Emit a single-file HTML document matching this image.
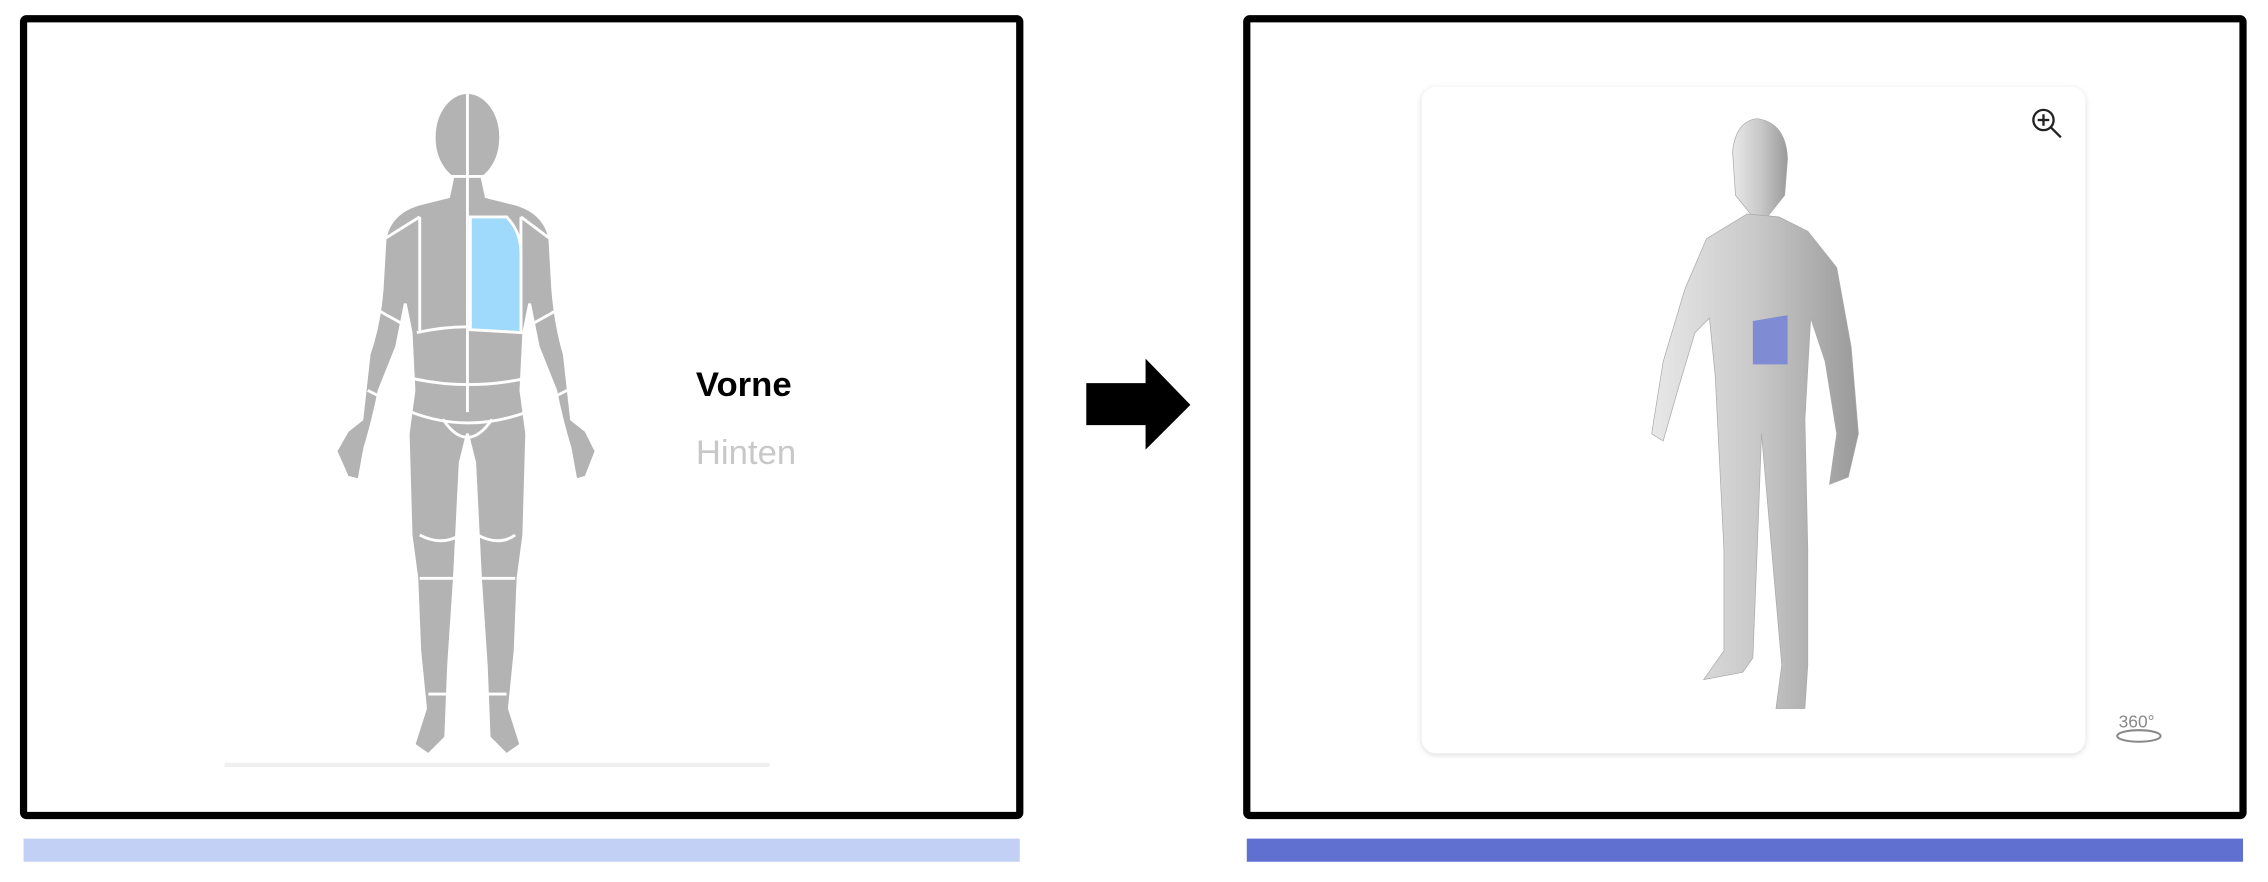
<!DOCTYPE html>
<html><head><meta charset="utf-8"><style>
html,body{margin:0;padding:0;background:#fff;width:2268px;height:882px;overflow:hidden}
svg{display:block}
text{font-family:"Liberation Sans",sans-serif}
</style></head><body>
<svg width="2268" height="882" viewBox="0 0 1568 610">
<defs>
<linearGradient id="g3" x1="0" x2="1"><stop offset="0" stop-color="#e8e8e8"/><stop offset="0.5" stop-color="#c9c9c9"/><stop offset="1" stop-color="#9a9a9a"/></linearGradient>
<filter id="sh" x="-5%" y="-5%" width="110%" height="110%"><feDropShadow dx="0" dy="1" stdDeviation="2" flood-color="#000" flood-opacity="0.15"/></filter>
</defs>
<!-- left panel -->
<rect x="16" y="13" width="689" height="551" fill="#fff" stroke="#000" stroke-width="5" rx="2"/>
<g fill="#b3b3b3" stroke="#fff" stroke-width="2">
 <ellipse cx="323" cy="95" rx="23" ry="31"/>
 <path d="M313,122 L333,122 L336,136 L352,140 Q376,145 380,165 L382,200 Q384,225 390,245 L395,290 L405,298 L412,312 L405,330 L398,332 L394,310 Q388,290 384,270 L372,240 L366,210 L362,230 L360,270 L364,300 L362,370 L358,400 L356,450 L352,490 L360,515 L350,522 L338,510 L336,460 L332,400 L328,320 L323,300 L318,320 L314,400 L310,460 L308,510 L296,522 L286,515 L294,490 L290,450 L288,400 L284,370 L282,300 L286,270 L284,230 L280,210 L274,240 L262,270 Q258,290 252,310 L248,332 L240,330 L232,312 L240,298 L250,290 L255,245 Q262,225 264,200 L266,165 Q270,145 294,140 L310,136 Z"/>
 <path d="M323,64 V285 M290,150 V230 M360,150 V230 M288,230 Q323,222 360,230 M286,262 Q323,270 362,262 M284,285 Q323,300 364,285 M306,290 Q323,315 340,290 M290,370 Q305,378 318,370 M330,370 Q345,378 356,370 M290,400 H316 M332,400 H356 M296,480 H312 M334,480 H350 M266,165 Q290,150 290,150 M380,165 Q360,150 360,150 M262,215 L280,225 M384,215 L366,225 M254,270 L270,278 M392,270 L376,278" fill="none"/>
 <path d="M325,150 L350,150 Q360,160 360,175 L360,230 L325,228 Z" fill="#9fd9fb" stroke="#fff"/>
</g>
<line x1="155" y1="529" x2="532" y2="529" stroke="#f0f0f0" stroke-width="3"/>
<text x="481" y="274" font-size="24" font-weight="bold" fill="#000">Vorne</text>
<text x="481" y="321" font-size="24" fill="#c8c8c8">Hinten</text>
<!-- arrow -->
<polygon points="751,265 792,265 792,248 823,280 792,311 792,294 751,294" fill="#000"/>
<!-- right panel -->
<rect x="862" y="13" width="689" height="551" fill="#fff" stroke="#000" stroke-width="5" rx="2"/>
<rect x="983" y="60" width="459" height="461" rx="10" fill="#fff" filter="url(#sh)"/>
<g fill="url(#g3)" stroke="#aaa" stroke-width="0.5">
 <path d="M1215,82 Q1235,85 1236,110 L1234,135 L1222,150 L1212,150 L1200,135 L1198,105 Q1200,84 1215,82 Z"/>
 <path d="M1208,148 L1230,150 L1250,160 L1270,185 L1280,240 L1285,300 L1278,330 L1265,335 L1270,300 L1262,250 L1252,220 L1248,290 L1250,380 L1250,460 L1248,490 L1228,490 L1232,460 L1225,380 L1218,300 L1215,380 L1212,455 L1205,465 L1178,470 L1192,450 L1192,380 L1188,300 L1186,260 L1182,220 L1172,230 L1160,270 L1150,305 L1142,300 L1150,250 L1165,200 L1180,165 Z"/>
 <path d="M1212,222 L1236,218 L1236,252 L1212,252 Z" fill="#7f8cd3" stroke="none"/>
</g>
<g fill="none" stroke="#222" stroke-width="1.6">
 <circle cx="1413" cy="83" r="7"/><line x1="1418" y1="88" x2="1425" y2="95"/><line x1="1413" y1="79" x2="1413" y2="87"/><line x1="1409" y1="83" x2="1417" y2="83"/>
</g>
<g>
 <text x="1465" y="503" font-size="12" fill="#888">360°</text>
 <ellipse cx="1479" cy="509" rx="15" ry="4" fill="none" stroke="#888" stroke-width="1.4"/>
</g>
<rect x="16" y="580" width="689" height="16" fill="#c2d0f5"/>
<rect x="862" y="580" width="689" height="16" fill="#5f70d0"/>
</svg>
</body></html>
